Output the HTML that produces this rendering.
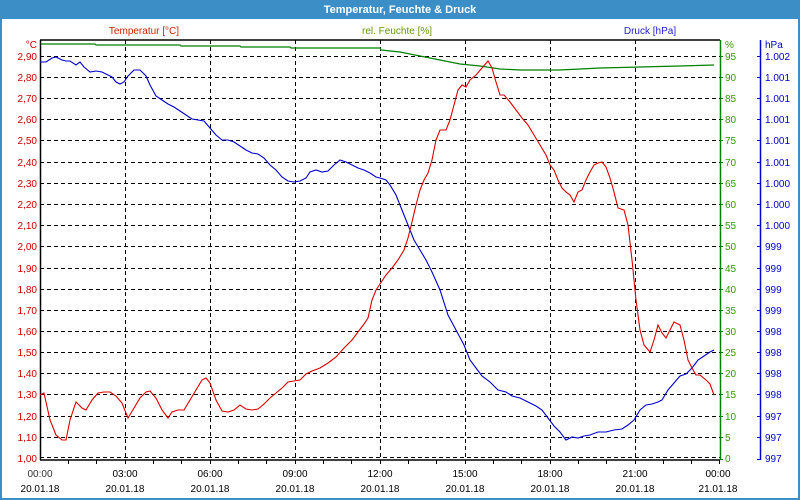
<!DOCTYPE html>
<html><head><meta charset="utf-8"><style>
html,body{margin:0;padding:0;background:#fff}
svg{display:block;font-family:"Liberation Sans",Tahoma,sans-serif}
</style></head><body>
<svg width="800" height="500" viewBox="0 0 800 500" xmlns="http://www.w3.org/2000/svg">
<rect x="0" y="0" width="800" height="500" fill="#3c8fc6"/>
<rect x="2" y="19" width="796" height="479" fill="#fff"/>
<text x="400" y="13" font-size="11" font-weight="bold" fill="#fff" text-anchor="middle">Temperatur, Feuchte &amp; Druck</text>
<g font-size="10">
<text x="144" y="34" fill="#cc2200" text-anchor="middle">Temperatur [°C]</text>
<text x="397" y="34" fill="#669900" text-anchor="middle">rel. Feuchte [%]</text>
<text x="650" y="34" fill="#2222cc" text-anchor="middle">Druck [hPa]</text>
</g>
<g stroke="#000" stroke-width="1" stroke-dasharray="4,3">
<line x1="40" y1="56.5" x2="720" y2="56.5"/><line x1="40" y1="77.5" x2="720" y2="77.5"/><line x1="40" y1="98.5" x2="720" y2="98.5"/><line x1="40" y1="119.5" x2="720" y2="119.5"/><line x1="40" y1="140.5" x2="720" y2="140.5"/><line x1="40" y1="162.5" x2="720" y2="162.5"/><line x1="40" y1="183.5" x2="720" y2="183.5"/><line x1="40" y1="204.5" x2="720" y2="204.5"/><line x1="40" y1="225.5" x2="720" y2="225.5"/><line x1="40" y1="246.5" x2="720" y2="246.5"/><line x1="40" y1="268.5" x2="720" y2="268.5"/><line x1="40" y1="289.5" x2="720" y2="289.5"/><line x1="40" y1="310.5" x2="720" y2="310.5"/><line x1="40" y1="331.5" x2="720" y2="331.5"/><line x1="40" y1="352.5" x2="720" y2="352.5"/><line x1="40" y1="373.5" x2="720" y2="373.5"/><line x1="40" y1="394.5" x2="720" y2="394.5"/><line x1="40" y1="416.5" x2="720" y2="416.5"/><line x1="40" y1="437.5" x2="720" y2="437.5"/><line x1="40" y1="457.5" x2="720" y2="457.5"/>
<line x1="125.5" y1="40" x2="125.5" y2="459"/><line x1="210.5" y1="40" x2="210.5" y2="459"/><line x1="295.5" y1="40" x2="295.5" y2="459"/><line x1="380.5" y1="40" x2="380.5" y2="459"/><line x1="465.5" y1="40" x2="465.5" y2="459"/><line x1="550.5" y1="40" x2="550.5" y2="459"/><line x1="635.5" y1="40" x2="635.5" y2="459"/>
</g>
<g stroke="#000" stroke-width="1.5" fill="none">
<line x1="40" y1="40" x2="720" y2="40"/><line x1="40.5" y1="40" x2="40.5" y2="460"/><line x1="40" y1="460" x2="720" y2="460"/>
</g>
<g stroke="#000">
<path d="M68.5 460v4M96.5 460v4M125.5 460v4M153.5 460v4M181.5 460v4M210.5 460v4M238.5 460v4M266.5 460v4M295.5 460v4M323.5 460v4M351.5 460v4M380.5 460v4M408.5 460v4M436.5 460v4M465.5 460v4M493.5 460v4M521.5 460v4M550.5 460v4M578.5 460v4M606.5 460v4M635.5 460v4M663.5 460v4M691.5 460v4M719.5 460v4"/>
</g>
<line x1="720.5" y1="40" x2="720.5" y2="460" stroke="#008000" stroke-width="1.5"/>
<line x1="760.5" y1="40" x2="760.5" y2="460" stroke="#0000cc" stroke-width="1.5"/>
<g font-size="10" fill="#cc0000" text-anchor="end">
<text x="37" y="48">°C</text><text x="37" y="60">2,90</text><text x="37" y="81">2,80</text><text x="37" y="102">2,70</text><text x="37" y="123">2,60</text><text x="37" y="144">2,50</text><text x="37" y="166">2,40</text><text x="37" y="187">2,30</text><text x="37" y="208">2,20</text><text x="37" y="229">2,10</text><text x="37" y="250">2,00</text><text x="37" y="272">1,90</text><text x="37" y="293">1,80</text><text x="37" y="314">1,70</text><text x="37" y="335">1,60</text><text x="37" y="356">1,50</text><text x="37" y="377">1,40</text><text x="37" y="398">1,30</text><text x="37" y="420">1,20</text><text x="37" y="441">1,10</text><text x="37" y="462">1,00</text>
</g>
<g font-size="10" fill="#339900">
<text x="725" y="48">%</text><text x="725" y="60">95</text><text x="725" y="81">90</text><text x="725" y="102">85</text><text x="725" y="123">80</text><text x="725" y="144">75</text><text x="725" y="166">70</text><text x="725" y="187">65</text><text x="725" y="208">60</text><text x="725" y="229">55</text><text x="725" y="250">50</text><text x="725" y="272">45</text><text x="725" y="293">40</text><text x="725" y="314">35</text><text x="725" y="335">30</text><text x="725" y="356">25</text><text x="725" y="377">20</text><text x="725" y="398">15</text><text x="725" y="420">10</text><text x="725" y="441">5</text><text x="725" y="462">0</text>
</g>
<g stroke="#008000"><path d="M720 56.5h3M720 77.5h3M720 98.5h3M720 119.5h3M720 140.5h3M720 162.5h3M720 183.5h3M720 204.5h3M720 225.5h3M720 246.5h3M720 268.5h3M720 289.5h3M720 310.5h3M720 331.5h3M720 352.5h3M720 373.5h3M720 394.5h3M720 416.5h3M720 437.5h3M720 459.5h3"/></g>
<g stroke="#0000cc"><path d="M757 56.5h3M757 77.5h3M757 98.5h3M757 119.5h3M757 140.5h3M757 162.5h3M757 183.5h3M757 204.5h3M757 225.5h3M757 246.5h3M757 268.5h3M757 289.5h3M757 310.5h3M757 331.5h3M757 352.5h3M757 373.5h3M757 394.5h3M757 416.5h3M757 437.5h3M757 459.5h3"/></g>
<g font-size="10" fill="#0000cc">
<text x="765" y="48">hPa</text><text x="765" y="60">1.002</text><text x="765" y="81">1.001</text><text x="765" y="102">1.001</text><text x="765" y="123">1.001</text><text x="765" y="144">1.001</text><text x="765" y="166">1.001</text><text x="765" y="187">1.000</text><text x="765" y="208">1.000</text><text x="765" y="229">1.000</text><text x="765" y="250">999</text><text x="765" y="272">999</text><text x="765" y="293">999</text><text x="765" y="314">999</text><text x="765" y="335">998</text><text x="765" y="356">998</text><text x="765" y="377">998</text><text x="765" y="398">998</text><text x="765" y="420">997</text><text x="765" y="441">997</text><text x="765" y="462">997</text>
</g>
<g font-size="10" fill="#000" text-anchor="middle">
<text x="40" y="477" fill="#333">00:00</text><text x="125" y="477">03:00</text><text x="210" y="477">06:00</text><text x="295" y="477">09:00</text><text x="380" y="477">12:00</text><text x="465" y="477">15:00</text><text x="550" y="477">18:00</text><text x="635" y="477">21:00</text><text x="718" y="477">00:00</text>
<text x="40" y="492">20.01.18</text><text x="125" y="492">20.01.18</text><text x="210" y="492">20.01.18</text><text x="295" y="492">20.01.18</text><text x="380" y="492">20.01.18</text><text x="465" y="492">20.01.18</text><text x="550" y="492">20.01.18</text><text x="635" y="492">20.01.18</text><text x="718" y="492">21.01.18</text>
</g>
<polyline fill="none" stroke="#008000" stroke-width="1.2" points="41,44 95,44 96,45 180,45 181,46 240,46 241,47 290,47 291,48 380,48 381,50 400,52 420,56 440,60 460,64 480,66 500,69 520,70 560,70 580,69 600,68 640,67 680,66 714,65"/>
<polyline fill="none" stroke="#0000cc" stroke-width="1.1" points="40,62 46,62 52,58 56,57 62,60 66,61 70,61 76,65 80,62 84,67 90,72 96,71 102,72 108,75 112,77 116,82 120,84 124,82 128,76 134,70 140,70 146,76 150,85 156,96 162,100 168,104 174,107 180,111 186,115 192,119 198,120 204,121 210,128 216,135 222,140 228,140 234,142 240,146 246,150 252,153 258,154 264,158 270,165 276,170 282,177 288,181 294,182 300,181 306,178 310,172 316,170 322,172 328,171 334,165 340,160 346,162 352,165 358,168 364,170 370,173 376,177 380,178 386,180 390,185 396,195 402,210 408,225 414,240 420,250 426,260 432,272 440,290 448,315 456,330 464,345 470,360 476,368 482,376 490,382 498,390 506,392 512,396 520,398 528,402 536,406 542,410 548,418 554,426 560,432 566,440 572,437 578,438 584,436 590,435 598,432 606,432 614,430 622,429 628,425 634,420 640,410 646,405 652,404 658,402 662,400 668,390 674,383 680,376 686,374 692,368 698,360 704,356 710,352 714,350"/>
<polyline fill="none" stroke="#dd0000" stroke-width="1.1" points="40,395 44,393 50,420 56,435 62,440 66,440 70,420 76,402 82,408 86,410 92,400 98,393 104,392 110,392 116,396 122,403 128,418 134,408 140,398 146,392 150,391 156,398 162,410 168,418 172,412 178,410 184,410 190,400 196,390 202,380 206,378 210,383 216,400 222,411 228,412 234,410 240,405 246,409 252,410 258,409 264,404 270,398 276,393 282,388 288,382 294,381 300,380 306,374 312,371 320,368 328,363 336,357 344,348 352,340 358,332 364,324 368,318 372,300 376,290 380,284 386,275 392,268 398,260 404,250 408,238 412,222 416,205 420,190 424,180 428,173 432,160 436,140 440,130 446,130 450,120 454,105 458,90 462,85 466,87 470,80 476,75 482,68 488,61 492,68 496,82 500,95 504,95 510,102 516,110 522,118 528,125 534,135 540,145 546,155 550,165 554,170 558,180 562,188 566,192 570,195 574,202 578,192 582,190 586,180 590,172 594,165 598,163 602,162 606,167 610,178 614,192 618,208 624,210 628,225 632,260 636,300 640,330 644,345 650,352 654,340 658,325 662,333 666,338 670,330 674,322 680,325 684,340 688,360 692,368 696,375 700,375 706,380 710,384 714,395"/>
</svg>
</body></html>
